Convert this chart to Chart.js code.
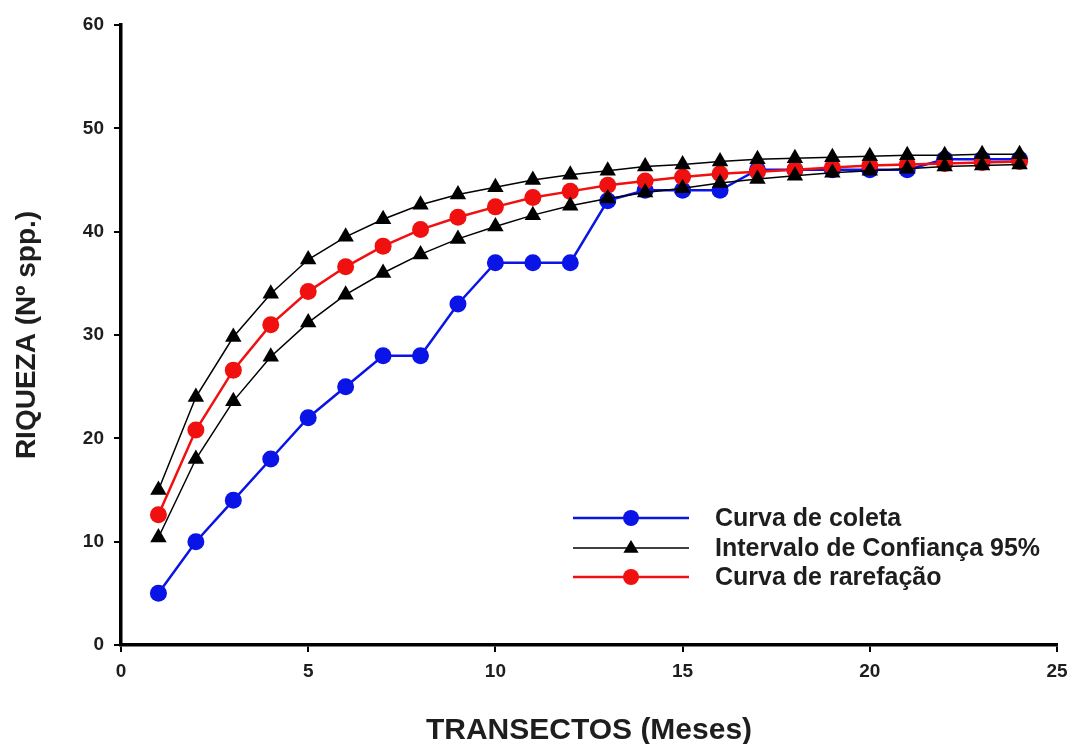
<!DOCTYPE html>
<html>
<head>
<meta charset="utf-8">
<script src="https://cdn.jsdelivr.net/npm/chart.js@4.4.1/dist/chart.umd.min.js"></script>
<style>
  html, body { margin: 0; padding: 0; background: #fff; }
  #wrap { width: 1078px; height: 744px; position: relative; }
</style>
</head>
<body>
<div id="wrap"><canvas id="c" width="1078" height="744"></canvas></div>
<script>
// Transects (months)
const transectos = [1,2,3,4,5,6,7,8,9,10,11,12,13,14,15,16,17,18,19,20,21,22,23,24];

// Observed species accumulation
const curvaColeta = [5,10,14,18,22,25,28,28,33,37,37,37,43,44,44,44,46,46,46,46,46,47,47,47];

// Rarefaction curve
const curvaRarefacao = [12.6,20.8,26.6,31.0,34.2,36.6,38.6,40.2,41.4,42.4,43.3,43.9,44.5,44.9,45.3,45.6,45.8,46.0,46.2,46.4,46.5,46.6,46.7,46.8];

// 95% confidence interval bounds
const icSuperior = [15.0,24.0,29.8,34.0,37.3,39.5,41.2,42.6,43.6,44.3,45.0,45.5,45.9,46.3,46.5,46.8,47.0,47.1,47.2,47.3,47.4,47.4,47.5,47.5];
const icInferior = [10.4,18.0,23.6,27.9,31.2,33.9,36.0,37.8,39.3,40.5,41.6,42.5,43.2,43.8,44.2,44.7,45.1,45.4,45.7,45.9,46.1,46.3,46.4,46.5];

// Axis ticks
const xTicks = [0,5,10,15,20,25];
const yTicks = [0,10,20,30,40,50,60];

const pts = arr => transectos.map((t, i) => ({ x: t, y: arr[i] }));

const FONT = '"Liberation Sans", Arial, sans-serif';
const TXT = '#1e1e1e';

// Legend drawn inside the plot, lower right
const legendItems = [
  { label: 'Curva de coleta', color: '#0a14e6', style: 'circle', lw: 2.5, r: 8 },
  { label: 'Intervalo de Confiança 95%', color: '#000000', style: 'triangle', lw: 1.5, r: 8 },
  { label: 'Curva de rarefação', color: '#f01010', style: 'circle', lw: 2.5, r: 8 }
];

const insideLegend = {
  id: 'insideLegend',
  afterDraw(chart) {
    const ctx = chart.ctx;
    const x0 = 573, x1 = 689, xm = 631, xt = 715;
    const ys = [518, 548, 577];
    ctx.save();
    legendItems.forEach((it, i) => {
      const y = ys[i];
      ctx.strokeStyle = it.color;
      ctx.lineWidth = it.lw;
      ctx.beginPath();
      ctx.moveTo(x0, y);
      ctx.lineTo(x1, y);
      ctx.stroke();
      ctx.fillStyle = it.color;
      ctx.beginPath();
      if (it.style === 'circle') {
        ctx.arc(xm, y, it.r, 0, Math.PI * 2);
      } else {
        ctx.moveTo(xm, y - it.r);
        ctx.lineTo(xm + it.r * 0.95, y + it.r * 0.6);
        ctx.lineTo(xm - it.r * 0.95, y + it.r * 0.6);
        ctx.closePath();
      }
      ctx.fill();
      ctx.fillStyle = TXT;
      ctx.font = 'bold 25px ' + FONT;
      ctx.textAlign = 'left';
      ctx.textBaseline = 'middle';
      ctx.fillText(it.label, xt, y + 1);
    });
    ctx.restore();
  }
};

new Chart(document.getElementById('c'), {
  type: 'line',
  data: {
    datasets: [
      {
        label: 'IC superior',
        data: pts(icSuperior),
        borderColor: '#000', backgroundColor: '#000',
        borderWidth: 1.5, pointStyle: 'triangle', pointRadius: 9.5, pointBorderWidth: 0,
        tension: 0
      },
      {
        label: 'IC inferior',
        data: pts(icInferior),
        borderColor: '#000', backgroundColor: '#000',
        borderWidth: 1.5, pointStyle: 'triangle', pointRadius: 9.5, pointBorderWidth: 0,
        tension: 0
      },
      {
        label: 'Curva de rarefação',
        data: pts(curvaRarefacao),
        borderColor: '#f01010', backgroundColor: '#f01010',
        borderWidth: 2.5, pointStyle: 'circle', pointRadius: 8.5, pointBorderWidth: 0,
        tension: 0
      },
      {
        label: 'Curva de coleta',
        data: pts(curvaColeta),
        borderColor: '#0a14e6', backgroundColor: '#0a14e6',
        borderWidth: 2.5, pointStyle: 'circle', pointRadius: 8.5, pointBorderWidth: 0,
        tension: 0
      }
    ]
  },
  options: {
    responsive: false,
    animation: false,
    devicePixelRatio: 1,
    layout: { padding: { top: 25, right: 21, left: 0, bottom: 0 } },
    plugins: {
      legend: { display: false },
      tooltip: { enabled: false }
    },
    scales: {
      x: {
        type: 'linear',
        min: 0, max: 25,
        afterBuildTicks: s => { s.ticks = xTicks.map(v => ({ value: v })); },
        afterFit: s => { s.height = 99; },
        grid: { display: true, drawOnChartArea: false, drawTicks: true, tickLength: 7, color: '#000', lineWidth: 2 },
        border: { display: true, color: '#000', width: 3.5 },
        ticks: { color: TXT, font: { family: FONT, size: 19, weight: 'bold' }, padding: 8, maxRotation: 0 },
        title: {
          display: true, text: 'TRANSECTOS (Meses)', color: TXT,
          font: { family: FONT, size: 30, weight: 'bold' }, padding: { top: 28, bottom: -5 }
        }
      },
      y: {
        type: 'linear',
        min: 0, max: 60,
        afterBuildTicks: s => { s.ticks = yTicks.map(v => ({ value: v })); },
        afterFit: s => { s.width = 121; },
        grid: { display: true, drawOnChartArea: false, drawTicks: true, tickLength: 7, color: '#000', lineWidth: 2 },
        border: { display: true, color: '#000', width: 3.5 },
        ticks: { color: TXT, font: { family: FONT, size: 19, weight: 'bold' }, padding: 10 },
        title: {
          display: true, text: 'RIQUEZA (Nº spp.)', color: TXT,
          font: { family: FONT, size: 28, weight: 'bold' }, padding: { top: 10, bottom: 0 }
        }
      }
    }
  },
  plugins: [insideLegend]
});
</script>
</body>
</html>
